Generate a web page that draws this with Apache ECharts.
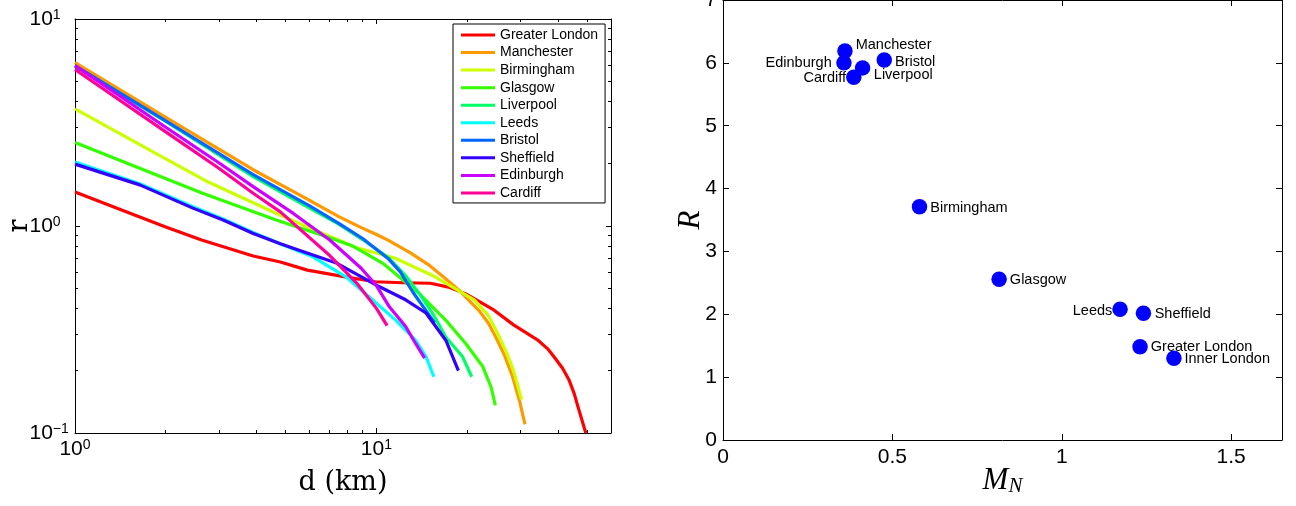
<!DOCTYPE html>
<html><head><meta charset="utf-8">
<script src="https://cdn.jsdelivr.net/npm/echarts@6/dist/echarts.min.js"></script>
<style>html,body{margin:0;padding:0;background:#fff}#c{width:1296px;height:506px}</style>
</head><body><div id="c"></div>
<script>
// ---------- Left chart data: r vs d (km), log-log ----------
const cityNames = ['Greater London','Manchester','Birmingham','Glasgow','Liverpool','Leeds','Bristol','Sheffield','Edinburgh','Cardiff'];
const greaterLondon = [[1,1.46],[1.53,1.15],[2,0.99],[2.63,0.855],[3.9,0.716],[4.8,0.67],[5.9,0.612],[7.8,0.569],[9.9,0.538],[12.2,0.532],[15.1,0.529],[17.5,0.505],[19.8,0.47],[24.5,0.393],[28.5,0.333],[34.2,0.282],[37,0.255],[39.5,0.226],[41.5,0.205],[43.5,0.181],[45.3,0.155],[46.9,0.13],[49.5,0.1]];
const manchester = [[1,6.15],[2,3.35],[3.9,1.87],[6,1.33],[7.5,1.11],[8.8,0.99],[10,0.91],[11,0.85],[13,0.74],[15,0.645],[17,0.555],[18.8,0.49],[20.5,0.43],[21.9,0.39],[23.5,0.34],[24.9,0.29],[26.5,0.24],[28.3,0.187],[29.8,0.144],[31.1,0.11]];
const birmingham = [[1,3.68],[2,2.11],[2.7,1.66],[4.66,1.15],[6,0.98],[8.5,0.79],[11.5,0.70],[15.6,0.57],[21.1,0.44],[23.5,0.37],[25.3,0.30],[27,0.245],[28.5,0.20],[30.3,0.145]];
const glasgow = [[1,2.53],[1.6,1.93],[2.65,1.44],[4.65,1.07],[6.5,0.91],[8.35,0.8],[10.5,0.66],[13.9,0.47],[17,0.35],[19.8,0.27],[22.5,0.21],[24,0.167],[24.8,0.136]];
const liverpool = [[1,5.9],[2,3.2],[3.9,1.73],[6,1.22],[7.5,1.02],[9,0.86],[11,0.70],[12.5,0.575],[13.9,0.47],[15.5,0.37],[17,0.29],[19.3,0.234],[20.7,0.187]];
const leeds = [[1,2.04],[1.64,1.6],[2.46,1.24],[3.1,1.08],[3.9,0.93],[5,0.8],[6.15,0.71],[7.9,0.57],[9.7,0.44],[11.6,0.35],[13.5,0.28],[14.6,0.234],[15.5,0.187]];
const bristol = [[1,5.95],[2,3.22],[3.9,1.77],[6,1.25],[7.5,1.03],[9,0.87],[11,0.69],[12,0.60],[13.2,0.48],[14.6,0.39],[15.6,0.34]];
const sheffield = [[1,1.99],[1.64,1.58],[2.46,1.22],[3.1,1.07],[3.9,0.92],[4.8,0.82],[5.6,0.76],[7.4,0.66],[10.2,0.51],[12.5,0.44],[14.6,0.38],[17,0.28],[18.7,0.20]];
const edinburgh = [[1,5.95],[2,3.0],[3,2.02],[3.9,1.55],[5.3,1.15],[7,0.856],[8.9,0.625],[10,0.515],[11,0.41],[12.5,0.327],[13.5,0.27],[14.45,0.23]];
const cardiff = [[1,5.7],[2,2.85],[3,1.9],[3.9,1.44],[4.8,1.17],[5.3,1.03],[7,0.72],[8.6,0.53],[10,0.40],[10.85,0.33]];
const curves = [greaterLondon, manchester, birmingham, glasgow, liverpool, leeds, bristol, sheffield, edinburgh, cardiff];

const dMajorTicks = [1,10];
const dMinorTicks = [2,3,4,5,6,7,8,9,20,30,40,50];
const rMajorTicks = [0.1,1,10];
const rMinorTicks = [0.2,0.3,0.4,0.5,0.6,0.7,0.8,0.9,2,3,4,5,6,7,8,9];

// ---------- Right chart data: R vs M_N ----------
const pointNames = ['Manchester','Edinburgh','Liverpool','Cardiff','Bristol','Birmingham','Glasgow','Leeds','Sheffield','Greater London','Inner London'];
const pointMN = [0.36,0.357,0.412,0.386,0.476,0.58,0.815,1.172,1.241,1.231,1.331];
const pointR = [6.19,6.0,5.92,5.77,6.045,3.71,2.556,2.08,2.015,1.485,1.30];
const mnTicks = [0,0.5,1,1.5];
const rTicks = [0,1,2,3,4,5,6,7];

// ---------- styles ----------
const lineColors = ['#ff0000','#ff9900','#ccff00','#33ff00','#00ff66','#00ffff','#0066ff','#3300ff','#cc00ff','#ff0099'];
const labelPlacement = {
  'Manchester': {position:'right', distance:3, offset:[0,-5.5]},
  'Edinburgh': {position:'left', distance:4.5, offset:[0,0]},
  'Liverpool': {position:'right', distance:3.5, offset:[0,7.5]},
  'Cardiff': {position:'left', distance:0, offset:[0,1]},
  'Bristol': {position:'right', distance:3, offset:[0,1.5]},
  'Birmingham': {position:'right', distance:3, offset:[0,1]},
  'Glasgow': {position:'right', distance:3, offset:[0,1]},
  'Leeds': {position:'left', distance:0, offset:[0,1.4]},
  'Sheffield': {position:'right', distance:3.5, offset:[0,0.7]},
  'Greater London': {position:'right', distance:3, offset:[0,0]},
  'Inner London': {position:'right', distance:2.8, offset:[0,0.7]}
};

const SANS = 'Liberation Sans';
const powRich = {
  b:{fontSize:21, lineHeight:21, fontFamily:SANS, padding:[7,0,7,0], color:'#000'},
  s:{fontSize:14, lineHeight:14, fontFamily:SANS, verticalAlign:'top', color:'#000'}
};
function powLabel(v){
  const e = Math.round(Math.log10(v));
  return '{b|10}{s|' + (e < 0 ? '\u2212' + (-e) : e) + '}';
}
const blackLine = {show:true, onZero:false, lineStyle:{color:'#000', width:1}};
const noLine = {show:false, onZero:false};
const LEFT_BOX = {left:75, top:19, width:536, height:414};

function logX(grid, pos, ticks, len, showLine, label){
  return {type:'log', logBase:10, gridIndex:grid, position:pos, min:1, max:60,
    axisLine: showLine ? blackLine : noLine,
    axisTick:{show:true, inside:true, length:len, customValues:ticks, lineStyle:{color:'#000', width:1}},
    axisLabel: label || {show:false},
    splitLine:{show:false}, minorTick:{show:false}};
}
function logY(grid, pos, ticks, len, showLine, label){
  return {type:'log', logBase:10, gridIndex:grid, position:pos, min:0.1, max:10,
    axisLine: showLine ? blackLine : noLine,
    axisTick:{show:true, inside:true, length:len, customValues:ticks, lineStyle:{color:'#000', width:1}},
    axisLabel: label || {show:false},
    splitLine:{show:false}, minorTick:{show:false}};
}

const xAxes = [
  Object.assign(logX(0, 'bottom', dMajorTicks, 5, true, {show:true, customValues:dMajorTicks, margin:5.5, fontSize:21, fontFamily:SANS, color:'#000', formatter:powLabel, rich:powRich}), {
    name:'d (km)', nameLocation:'middle', nameGap:36.5, nameMoveOverlap:false,
    nameTextStyle:{fontFamily:'DejaVu Serif', fontSize:27, lineHeight:27, color:'#000'}
  }),
  logX(0, 'top', dMajorTicks, 5, true),
  {type:'value', gridIndex:1, position:'bottom', min:0, max:1.65, interval:0.5,
    axisLine:blackLine,
    axisTick:{show:true, inside:true, length:6, customValues:mnTicks, lineStyle:{color:'#000'}},
    axisLabel:{show:true, customValues:mnTicks, margin:7, fontSize:21, lineHeight:21, fontFamily:SANS, color:'#000'},
    splitLine:{show:false},
    name:'{m|M}{n|N}', nameLocation:'middle', nameGap:26, nameMoveOverlap:false,
    nameTextStyle:{rich:{
      m:{fontFamily:'Liberation Serif', fontStyle:'italic', fontSize:31, lineHeight:31, padding:[0,0,2,0], color:'#000'},
      n:{fontFamily:'Liberation Serif', fontStyle:'italic', fontSize:21, lineHeight:21, verticalAlign:'bottom', color:'#000'}
    }}
  },
  {type:'value', gridIndex:1, position:'top', min:0, max:1.65, interval:0.5,
    axisLine:blackLine,
    axisTick:{show:true, inside:true, length:6, customValues:mnTicks, lineStyle:{color:'#000'}},
    axisLabel:{show:false}, splitLine:{show:false}},
  logX(2, 'bottom', dMinorTicks, 3, false),
  logX(2, 'top', dMinorTicks, 3, false)
];
const yAxes = [
  Object.assign(logY(0, 'left', rMajorTicks, 5, true, {show:true, customValues:rMajorTicks, align:'left', margin:45.5, fontSize:21, fontFamily:SANS, color:'#000', formatter:powLabel, rich:powRich}), {
    name:'r', nameLocation:'middle', nameGap:42, nameMoveOverlap:false,
    nameTextStyle:{fontFamily:'DejaVu Serif', fontSize:27, lineHeight:27, color:'#000'}
  }),
  logY(0, 'right', rMajorTicks, 5, true),
  {type:'value', gridIndex:1, position:'left', min:0, max:7, interval:1,
    axisLine:blackLine,
    axisTick:{show:true, inside:true, length:6, customValues:rTicks, lineStyle:{color:'#000'}},
    axisLabel:{show:true, customValues:rTicks, margin:6, fontSize:21, lineHeight:21, fontFamily:SANS, color:'#000'},
    splitLine:{show:false},
    name:'R', nameLocation:'middle', nameGap:16.5, nameMoveOverlap:false,
    nameTextStyle:{fontFamily:'Liberation Serif', fontStyle:'italic', fontSize:31, lineHeight:31, color:'#000'}
  },
  {type:'value', gridIndex:1, position:'right', min:0, max:7, interval:1,
    axisLine:blackLine,
    axisTick:{show:true, inside:true, length:6, customValues:rTicks, lineStyle:{color:'#000'}},
    axisLabel:{show:false}, splitLine:{show:false}},
  logY(2, 'left', rMinorTicks, 3, false),
  logY(2, 'right', rMinorTicks, 3, false)
];

const series = cityNames.map((name, i) => ({
  type:'line', name:name, xAxisIndex:0, yAxisIndex:0,
  data: curves[i], symbol:'none', showSymbol:false, smooth:false,
  lineStyle:{width:3.2, color:lineColors[i], join:'round', cap:'butt'}, itemStyle:{color:lineColors[i]},
  emphasis:{disabled:true}
}));
series.push({
  type:'scatter', xAxisIndex:2, yAxisIndex:2, symbol:'circle', symbolSize:15.5,
  itemStyle:{color:'#0000ff', opacity:1},
  label:{show:true, formatter:'{b}', color:'#000', fontSize:14.5, fontFamily:SANS},
  data: pointNames.map((n, i) => ({name:n, value:[pointMN[i], pointR[i]], label:labelPlacement[n]})),
  emphasis:{disabled:true}
});

const chart = echarts.init(document.getElementById('c'), null, {renderer:'canvas'});
chart.setOption({
  animation:false,
  backgroundColor:'#fff',
  grid:[
    Object.assign({outerBoundsMode:'none', containLabel:false}, LEFT_BOX),
    {left:723, top:0, width:559, height:440, outerBoundsMode:'none', containLabel:false},
    Object.assign({outerBoundsMode:'none', containLabel:false}, LEFT_BOX)
  ],
  legend:{
    show:true, orient:'vertical', left:453, top:24,
    data: cityNames,
    icon:'rect', itemWidth:34, itemHeight:3, itemGap:3.55, itemTextGap:4,
    padding:[4,7,3,8],
    borderColor:'#000', borderWidth:1, backgroundColor:'#fff',
    textStyle:{fontSize:14, lineHeight:14, fontFamily:SANS, color:'#000'},
    selectedMode:false
  },
  xAxis:xAxes,
  yAxis:yAxes,
  series:series
});
</script>
</body></html>
